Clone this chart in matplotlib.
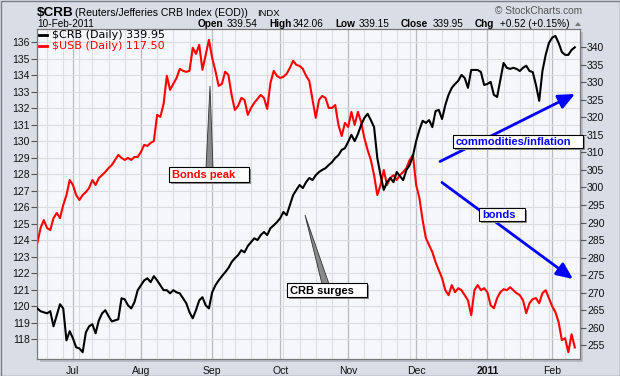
import numpy as np
import pandas as pd
import matplotlib
matplotlib.use("Agg")
import matplotlib.pyplot as plt
from matplotlib.patches import Rectangle, Polygon, FancyArrowPatch
from matplotlib.transforms import IdentityTransform

# ---------------- data ----------------
holidays = ['2010-07-05', '2010-09-06', '2010-11-25', '2010-12-24', '2011-01-17']
start_date = '2010-06-16'
end_date = '2011-02-10'

crb = [265.5, 264.7, 264.4, 264.1, 264.7, 260.4, 263.5, 266.7, 265.5, 256.4,
       259.0, 257.0, 254.4, 254.1, 253.0, 258.7, 260.4, 261.0, 258.4, 262.1,
       264.1, 265.0, 263.3, 261.8, 262.1, 262.4, 268.4, 268.1, 266.4, 265.5,
       267.3, 270.7, 272.1, 273.5, 274.1, 273.0, 274.7, 273.5, 272.1, 270.7,
       270.7, 269.8, 270.7, 270.1, 269.8, 268.4, 267.0, 264.4, 262.7, 265.0,
       267.8, 268.7, 266.4, 265.5, 270.1, 272.1, 273.5, 274.7, 275.8, 277.0,
       278.7, 279.8, 280.7, 282.1, 281.5, 283.3, 284.4, 285.5, 285.0, 286.4,
       287.3, 286.4, 288.4, 289.2, 290.1, 291.2, 293.0, 292.1, 295.0, 297.8,
       299.3, 300.7, 299.8, 301.5, 302.7, 302.1, 303.5, 304.4, 305.0, 305.5,
       306.4, 307.2, 308.4, 309.2, 310.7, 311.2, 313.0, 315.0, 313.2, 315.2,
       317.8, 319.8, 321.0, 319.2, 317.2, 308.4, 303.5, 299.3, 301.5, 302.7,
       301.5, 304.4, 303.2, 302.1, 305.0, 306.4, 309.0, 313.2, 316.4, 319.0,
       318.4, 319.2, 317.2, 321.8, 322.1, 319.5, 323.5, 326.4, 328.4, 329.5,
       330.4, 332.1, 331.2, 328.4, 333.5, 333.5, 333.5, 332.9, 329.2, 329.5,
       330.1, 326.4, 325.8, 330.7, 335.5, 334.1, 333.8, 334.1, 333.8, 333.2,
       334.1, 334.7, 333.2, 332.9, 329.2, 324.7, 333.2, 337.8, 341.2, 342.7,
       343.2, 341.2, 338.6, 337.8, 337.8, 339.2, 339.95]

usb = [123.83, 124.74, 125.22, 124.74, 124.62, 125.34, 125.65, 125.34, 126.13, 126.74,
       127.65, 127.35, 126.74, 126.44, 126.74, 126.92, 127.17, 127.65, 127.35, 127.77,
       127.95, 128.14, 128.38, 128.56, 128.87, 129.17, 128.99, 128.87, 128.99, 128.87,
       129.05, 129.05, 129.35, 129.78, 129.72, 129.90, 130.02, 131.60, 131.48, 132.27,
       133.97, 133.12, 133.48, 133.84, 134.39, 134.27, 134.21, 134.27, 135.67, 135.30,
       135.85, 134.33, 135.24, 136.15, 135.06, 134.27, 133.36, 133.48, 134.21, 134.03,
       132.81, 131.90, 132.14, 132.63, 132.51, 131.60, 132.02, 132.33, 132.57, 132.81,
       132.63, 131.96, 133.54, 134.27, 133.97, 133.84, 133.91, 134.09, 134.45, 134.88,
       134.63, 134.57, 134.39, 133.97, 133.66, 132.51, 131.42, 132.51, 132.75, 132.63,
       132.02, 132.02, 132.20, 130.99, 130.32, 131.11, 130.87, 131.78, 130.99, 131.78,
       131.17, 130.20, 129.47, 128.87, 127.95, 126.74, 127.35, 128.26, 127.35, 127.77,
       127.95, 127.65, 127.95, 128.14, 128.38, 128.87, 129.17, 127.35, 126.56, 125.22,
       124.13, 123.70, 123.28, 122.67, 122.19, 121.70, 120.97, 120.67, 121.28, 120.85,
       121.09, 120.97, 120.67, 120.36, 119.45, 120.97, 121.28, 120.97, 121.09, 120.85,
       120.06, 119.88, 120.49, 120.85, 121.03, 120.97, 121.15, 120.97, 120.79, 120.67,
       120.36, 119.58, 120.18, 120.43, 120.49, 120.18, 120.79, 120.97, 120.49, 120.00,
       119.64, 119.03, 117.94, 118.06, 117.21, 118.30, 117.50]

month_labels = ['Jul', 'Aug', 'Sep', 'Oct', 'Nov', 'Dec', '2011', 'Feb']
usb_ticks = list(range(118, 137))
crb_ticks = list(range(255, 345, 5))

title_main = '$CRB'
title_desc = '(Reuters/Jefferies CRB Index (EOD))'
title_exch = 'INDX'
date_text = '10-Feb-2011'
quote_parts = [('Open', True, 198), ('339.54', False, 227), ('High', True, 269),
               ('342.06', False, 293), ('Low', True, 335), ('339.15', False, 359),
               ('Close', True, 401), ('339.95', False, 433), ('Chg', True, 475),
               ('+0.52 (+0.15%)', False, 500)]
legend_crb = '$CRB (Daily) 339.95'
legend_usb = '$USB (Daily) 117.50'

# ---------------- figure ----------------
W, H = 620, 376
fig = plt.figure(figsize=(W / 100, H / 100), dpi=100)
fig.patch.set_facecolor('#d9dde6')
ID = IdentityTransform()
SANS = ['Liberation Sans', 'DejaVu Sans']

dates = pd.bdate_range(start_date, end_date, freq='C', holidays=holidays)
n = min(len(dates), len(crb), len(usb))
dates = dates[:n]
x = np.arange(n)

ax_l, ax_b, ax_w, ax_h = 37, 16.7, 543, 330.5
fig.add_artist(Rectangle((ax_l + 3, ax_b - 3), ax_w, ax_h, transform=ID,
                         fc='#b8bcc6', ec='none', zorder=0))
ax = fig.add_axes([ax_l / W, ax_b / H, ax_w / W, ax_h / H])
ax.set_facecolor('#f6f7fb')
ax2 = ax.twinx()

month_idx = [i for i in range(1, n) if dates[i].month != dates[i - 1].month]
week_idx = [i for i in range(1, n) if dates[i].weekday() < dates[i - 1].weekday()]
for i in week_idx:
    ax.axvline(i, color='#dcdde2', lw=0.8, zorder=0)
for i in month_idx:
    ax.axvline(i, color='#b9bbc2', lw=0.9, zorder=0)
for t in usb_ticks:
    ax.axhline(t, color='#dcdde2', lw=0.8, zorder=0)

ax.plot(x, usb[:n], color='#ff0000', lw=1.5, zorder=3)
ax2.plot(x, crb[:n], color='black', lw=1.5, zorder=3)

ax.set_xlim(-0.1, n + 0.6)
ax.set_ylim(116.78, 136.82)
ax2.set_ylim(251.0, 345.23)

ax.set_yticks(usb_ticks)
ax.set_yticklabels([str(t) for t in usb_ticks])
ax2.set_yticks(crb_ticks)
ax2.set_yticklabels([str(t) for t in crb_ticks])
ax.set_xticks(month_idx)
ax.set_xticklabels(month_labels[:len(month_idx)])
for lab in ax.get_xticklabels():
    if lab.get_text() == '2011':
        lab.set_fontweight('bold')

for a in (ax, ax2):
    a.tick_params(axis='y', labelsize=7.5, length=4, width=0.8, color='#555555',
                  pad=1, labelcolor='#111111')
    for lab in a.get_yticklabels():
        lab.set_family(SANS)
ax.tick_params(axis='x', labelsize=7.5, length=0, pad=5, labelcolor='#111111')
for lab in ax.get_xticklabels():
    lab.set_family(SANS)
for a in (ax, ax2):
    for s in a.spines.values():
        s.set_color('#777777')
        s.set_linewidth(0.8)

# ---------------- header ----------------
def ftext(xp, yp, s, **kw):
    return fig.text(xp, H - yp, s, transform=ID, **kw)

ftext(37, 16.5, title_main, fontsize=9.7, fontweight='bold', family=SANS, va='baseline')
ftext(75, 16.5, title_desc, fontsize=7.6, family=SANS, va='baseline')
ftext(257, 16.5, title_exch, fontsize=6.8, family=SANS, va='baseline')
ftext(37, 27, date_text, fontsize=7.2, family=SANS, va='baseline')
for s, bold, xp in quote_parts:
    ftext(xp, 27, s, fontsize=7.2, family=SANS, va='baseline',
          fontweight='bold' if bold else 'normal')
fig.add_artist(Polygon([[575, H - 26], [581, H - 26], [578, H - 22]], closed=True,
                       transform=ID, fc='#777777', ec='none'))
ftext(582, 14, '\u00a9 StockCharts.com', fontsize=7.3, family=SANS, va='baseline',
      ha='right', color='#555555')

# legend
fig.add_artist(plt.Line2D([39, 47], [H - 34.7, H - 34.7], transform=ID, color='black', lw=2))
fig.add_artist(plt.Line2D([39, 47], [H - 46, H - 46], transform=ID, color='#ff0000', lw=2))
ftext(52, 34.7, legend_crb, fontsize=8, family='DejaVu Sans', va='center', color='black')
ftext(52, 46, legend_usb, fontsize=8, family='DejaVu Sans', va='center', color='#ff0000')

# ---------------- annotations ----------------
def wedge(tip, b1, b2):
    fig.add_artist(Polygon([[tip[0], H - tip[1]], [b1[0], H - b1[1]], [b2[0], H - b2[1]]],
                           closed=True, transform=ID, fc='#8a8a8a', ec='#333333',
                           lw=0.6, zorder=9))

def box(x0, y0, x1, y1, s, color):
    fig.add_artist(Rectangle((x0 + 2, H - y1 - 2), x1 - x0, y1 - y0, transform=ID,
                             fc='#8c8c8c', ec='none', zorder=10))
    fig.add_artist(Rectangle((x0, H - y1), x1 - x0, y1 - y0, transform=ID,
                             fc='white', ec='black', lw=0.8, zorder=11))
    ftext(x0 + 3, (y0 + y1) / 2 + 0.5, s, fontsize=8, fontweight='bold', family=SANS,
          va='center', ha='left', color=color, zorder=12)

wedge((210, 86), (206, 168), (213, 168))
box(169, 167, 249, 182, 'Bonds peak', '#ff0000')
wedge((305, 215), (322, 284), (329, 284))
box(287, 283, 367, 297, 'CRB surges', 'black')

def arrow(p0, p1):
    fig.add_artist(FancyArrowPatch((p0[0], H - p0[1]), (p1[0], H - p1[1]), transform=ID,
                                   arrowstyle='-|>,head_length=0.9,head_width=0.4',
                                   mutation_scale=11, lw=2, color='#0000ff', zorder=8,
                                   shrinkA=0, shrinkB=0))

arrow((440, 161.5), (575, 94))
arrow((442, 182.5), (573, 279))
box(453, 135, 583, 148, 'commodities/inflation', '#0000ff')
box(479, 208, 525, 221, 'bonds', '#0000ff')

fig.add_artist(Rectangle((0.5, 0.5), W - 1, H - 1, transform=ID, fc='none',
                         ec='#7a7e88', lw=1, zorder=20))

fig.savefig('out.png', dpi=100, facecolor=fig.get_facecolor())
